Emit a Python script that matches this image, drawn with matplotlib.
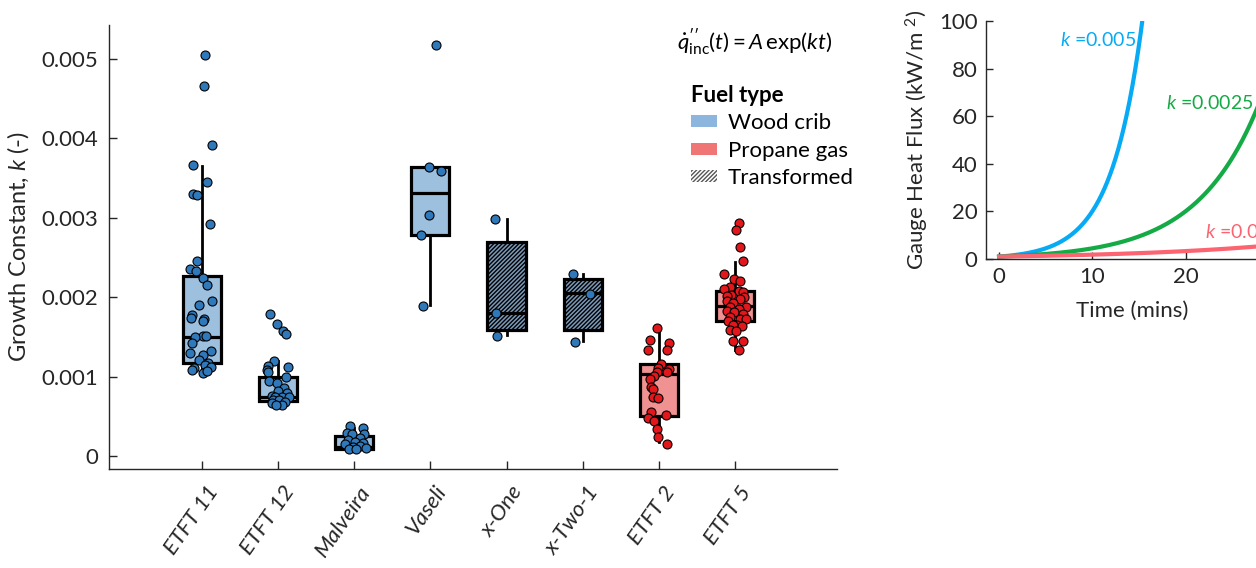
import numpy as np
import matplotlib
matplotlib.use("Agg")
import matplotlib.pyplot as plt
from matplotlib.patches import Patch
from matplotlib.transforms import ScaledTranslation, blended_transform_factory

plt.rcParams["font.family"] = ["Lato", "DejaVu Sans"]
plt.rcParams["mathtext.fontset"] = "custom"
plt.rcParams["mathtext.rm"] = "Lato"
plt.rcParams["mathtext.it"] = "Lato:italic"
plt.rcParams["mathtext.bf"] = "Lato:bold"
plt.rcParams["hatch.linewidth"] = 1.0

# ---------------- data ----------------
categories = ["ETFT 11", "ETFT 12", "Malveira", "Vaseli", "x-One", "x-Two-1", "ETFT 2", "ETFT 5"]
fuel = ["wood", "wood", "wood", "wood", "transformed", "transformed", "propane", "propane"]

k_etft11 = [5.05, 4.66, 3.92, 3.66, 3.45, 3.30, 3.29, 2.92, 2.46, 2.36, 2.33, 2.24, 2.15, 1.95,
            1.90, 1.78, 1.74, 1.72, 1.70, 1.51, 1.51, 1.50, 1.42, 1.32, 1.30, 1.27, 1.21, 1.17,
            1.15, 1.11, 1.12, 1.08, 1.05, 1.07]
jit_etft11 = [0.04, 0.03, 0.13, -0.12, 0.07, -0.12, -0.07, 0.10, -0.07, -0.16, -0.08, 0.01, 0.07, 0.13,
              -0.04, -0.13, -0.14, 0.03, 0.01, 0.01, 0.05, -0.09, -0.13, 0.12, -0.16, 0.01, -0.04, 0.08,
              0.04, -0.10, 0.12, -0.13, 0.01, 0.07]

k_etft12 = [1.79, 1.66, 1.57, 1.53, 1.20, 1.13, 1.12, 1.08, 1.06, 0.995, 0.95, 0.92, 0.86, 0.82,
            0.79, 0.76, 0.74, 0.74, 0.74, 0.71, 0.71, 0.68, 0.67, 0.64, 0.64]
jit_etft12 = [-0.10, -0.01, 0.07, 0.10, -0.05, -0.13, 0.13, -0.14, -0.13, 0.10, -0.12, -0.01, 0.08, 0.00,
              0.12, -0.08, 0.05, -0.04, 0.14, -0.07, 0.01, 0.09, -0.08, 0.05, -0.03]

k_malveira = [0.38, 0.35, 0.29, 0.28, 0.28, 0.23, 0.20, 0.18, 0.16, 0.15, 0.13, 0.11, 0.10, 0.09, 0.09]
jit_malveira = [-0.05, 0.12, -0.10, -0.03, 0.13, 0.07, -0.08, 0.01, 0.12, -0.12, 0.07, -0.01, 0.16, -0.07, 0.03]

k_vaseli = [5.18, 3.64, 3.59, 3.03, 2.78, 1.89]
jit_vaseli = [0.07, -0.02, 0.14, -0.02, -0.12, -0.10]

k_xone = [2.98, 1.80, 1.51]
jit_xone = [-0.15, -0.14, -0.12]

k_xtwo = [2.29, 2.04, 1.44]
jit_xtwo = [-0.13, 0.09, -0.10]

k_etft2 = [1.61, 1.46, 1.42, 1.33, 1.33, 1.16, 1.11, 1.10, 1.06, 1.06, 1.01, 0.97, 0.87, 0.84,
           0.74, 0.73, 0.55, 0.52, 0.48, 0.44, 0.34, 0.24, 0.15]
jit_etft2 = [-0.02, -0.11, 0.14, -0.14, 0.11, 0.03, -0.01, 0.14, -0.03, 0.11, -0.06, -0.12, -0.10, -0.07,
             -0.07, -0.01, -0.10, 0.10, -0.14, -0.06, -0.02, -0.01, 0.11]

k_etft5 = [2.93, 2.85, 2.63, 2.46, 2.29, 2.23, 2.20, 2.13, 2.10, 2.08, 2.07, 2.03, 2.02, 2.00, 1.98,
           1.95, 1.93, 1.88, 1.88, 1.85, 1.83, 1.81, 1.79, 1.75, 1.73, 1.70, 1.73, 1.65, 1.65, 1.64,
           1.59, 1.57, 1.45, 1.45, 1.34]
jit_etft5 = [0.05, 0.01, 0.06, 0.10, -0.15, -0.01, 0.07, -0.07, -0.14, 0.05, 0.11, -0.05, -0.11, 0.12, 0.06,
             -0.10, -0.02, 0.14, -0.07, 0.05, -0.11, -0.01, 0.11, -0.06, 0.07, -0.09, 0.14, 0.03, -0.03, 0.09,
             -0.07, 0.01, -0.03, 0.11, 0.05]

k_values = [k_etft11, k_etft12, k_malveira, k_vaseli, k_xone, k_xtwo, k_etft2, k_etft5]
jitters = [jit_etft11, jit_etft12, jit_malveira, jit_vaseli, jit_xone, jit_xtwo, jit_etft2, jit_etft5]

# box statistics (units of 1e-3)
box_q1 = [1.17, 0.69, 0.09, 2.78, 1.59, 1.59, 0.50, 1.70]
box_med = [1.50, 0.74, 0.11, 3.31, 1.80, 2.05, 1.03, 1.89]
box_q3 = [2.27, 0.995, 0.25, 3.64, 2.70, 2.23, 1.16, 2.08]
whisk_lo = [1.05, 0.64, 0.09, 1.90, 1.52, 1.45, 0.17, 1.34]
whisk_hi = [3.65, 1.20, 0.35, 3.64, 2.98, 2.29, 1.61, 2.44]

# heat-flux growth curves  q = A exp(k t), t in seconds
growth_k = [0.005, 0.0025, 0.001]
growth_labels = ["0.005", "0.0025", "0.001"]
A_flux = 1.0

# ---------------- styling ----------------
INK = "#262626"
wood_fill = "#9dc0df"
prop_fill = "#f09292"
wood_dot = "#2f79bb"
prop_dot = "#e2161b"
fill_of = {"wood": wood_fill, "transformed": "#7b9aba", "propane": prop_fill}
dot_of = {"wood": wood_dot, "transformed": wood_dot, "propane": prop_dot}
curve_colors = ["#06aaf5", "#14aa45", "#fb6470"]

W, H = 1256, 568
fig = plt.figure(figsize=(W / 100, H / 100), dpi=100)

# ---------------- main box plot ----------------
ax = fig.add_axes([109 / W, 1 - 469 / H, (837 - 109) / W, (469 - 25) / H])
scale = 1e-3
pos = np.arange(len(categories))
stats = []
for i in range(len(categories)):
    stats.append(dict(q1=box_q1[i] * scale, med=box_med[i] * scale, q3=box_q3[i] * scale,
                      whislo=whisk_lo[i] * scale, whishi=whisk_hi[i] * scale, fliers=[]))
bp = ax.bxp(stats, positions=pos, widths=0.5, showcaps=False, showfliers=False,
            patch_artist=True,
            boxprops=dict(linewidth=2.3, edgecolor="black"),
            medianprops=dict(color="black", linewidth=2.3),
            whiskerprops=dict(color="black", linewidth=2.0))
for i, b in enumerate(bp["boxes"]):
    b.set_facecolor(fill_of[fuel[i]])
    b.set_zorder(2)
    if fuel[i] == "transformed":
        b.set_hatch("////////")
for m in bp["medians"]:
    m.set_zorder(3)
for w in bp["whiskers"]:
    w.set_zorder(1.5)

for i, (vals, jit) in enumerate(zip(k_values, jitters)):
    x = pos[i] + np.asarray(jit)
    y = np.asarray(vals) * scale
    ax.scatter(x, y, s=42, color=dot_of[fuel[i]], edgecolor="black", linewidth=0.8, zorder=4)

ax.set_xlim(-1.22, 8.34)
ax.set_ylim(-0.000164, 0.005428)
ax.set_yticks(np.arange(0, 0.0051, 0.001))
ax.set_yticklabels(["0", "0.001", "0.002", "0.003", "0.004", "0.005"])
ax.set_xticks(pos)
ax.set_xticklabels([])
# rotated category labels, their right end just below and right of each tick
lab_tr = blended_transform_factory(ax.transData, ax.transAxes) + \
    ScaledTranslation(12 / 100, -19 / 100, fig.dpi_scale_trans)
for p, name in zip(pos, categories):
    ax.text(p, 0, name, transform=lab_tr, rotation=55, rotation_mode="anchor",
            ha="right", va="center", style="italic", fontsize=16, color=INK, clip_on=False)
for s in ["top", "right"]:
    ax.spines[s].set_visible(False)
for s in ["left", "bottom"]:
    ax.spines[s].set_color(INK)
    ax.spines[s].set_linewidth(1.0)
ax.tick_params(direction="in", length=6, width=1.0, colors=INK, labelsize=16, pad=8)
ax.set_ylabel("Growth Constant, $k$ (-)", fontsize=17, color=INK, labelpad=7)

# formula
fig.text(677 / W, 1 - 43 / H, r"$\dot{q}_{\rm inc}^{\prime\prime}(t) = A\,\exp(kt)$", fontsize=16,
         color="black", ha="left", va="center")

# legend
handles = [Patch(facecolor="#8cb6dd", edgecolor="none", label="Wood crib"),
           Patch(facecolor="#f07575", edgecolor="none", label="Propane gas"),
           Patch(facecolor="white", edgecolor="#555555", hatch="////////", linewidth=0,
                 label="Transformed")]
leg = fig.legend(handles=handles, loc="upper left", bbox_to_anchor=(691 / W, 1 - 85 / H),
                 frameon=False, fontsize=16, title="Fuel type",
                 title_fontproperties=dict(weight="bold", size=16),
                 handlelength=1.15, handleheight=0.45, handletextpad=0.5,
                 labelspacing=0.33, borderpad=0, borderaxespad=0)
leg._legend_box.align = "left"

# ---------------- inset: heat flux curves ----------------
ax2 = fig.add_axes([986 / W, 1 - 259 / H, (1279 - 986) / W, (259 - 21) / H])
t_min = np.linspace(0, 30, 400)
for kk, col in zip(growth_k, curve_colors):
    ax2.plot(t_min, A_flux * np.exp(kk * 60 * t_min), color=col, linewidth=3.0)
ax2.set_xlim(-1.4, 30)
ax2.set_ylim(0, 100)
ax2.set_xticks([0, 10, 20, 30])
ax2.set_yticks([0, 20, 40, 60, 80, 100])
for s in ["top", "right"]:
    ax2.spines[s].set_visible(False)
for s in ["left", "bottom"]:
    ax2.spines[s].set_color(INK)
    ax2.spines[s].set_linewidth(1.0)
ax2.tick_params(direction="in", length=5, width=1.0, colors=INK, labelsize=16, pad=6)
ax2.set_xlabel("Time (mins)", fontsize=16, color=INK, labelpad=10)
ax2.set_ylabel(r"Gauge Heat Flux (kW/m $^{2}$)", fontsize=16, color=INK, labelpad=6)

label_xy = [(6.5, 92), (17.9, 65.5), (22.1, 11.3)]
for (lx, ly), lab, col in zip(label_xy, growth_labels, curve_colors):
    ax2.text(lx, ly, r"$k$ =" + lab, color=col, fontsize=14, ha="left", va="center",
             clip_on=False)

fig.savefig("out.png", dpi=100, facecolor="white")
